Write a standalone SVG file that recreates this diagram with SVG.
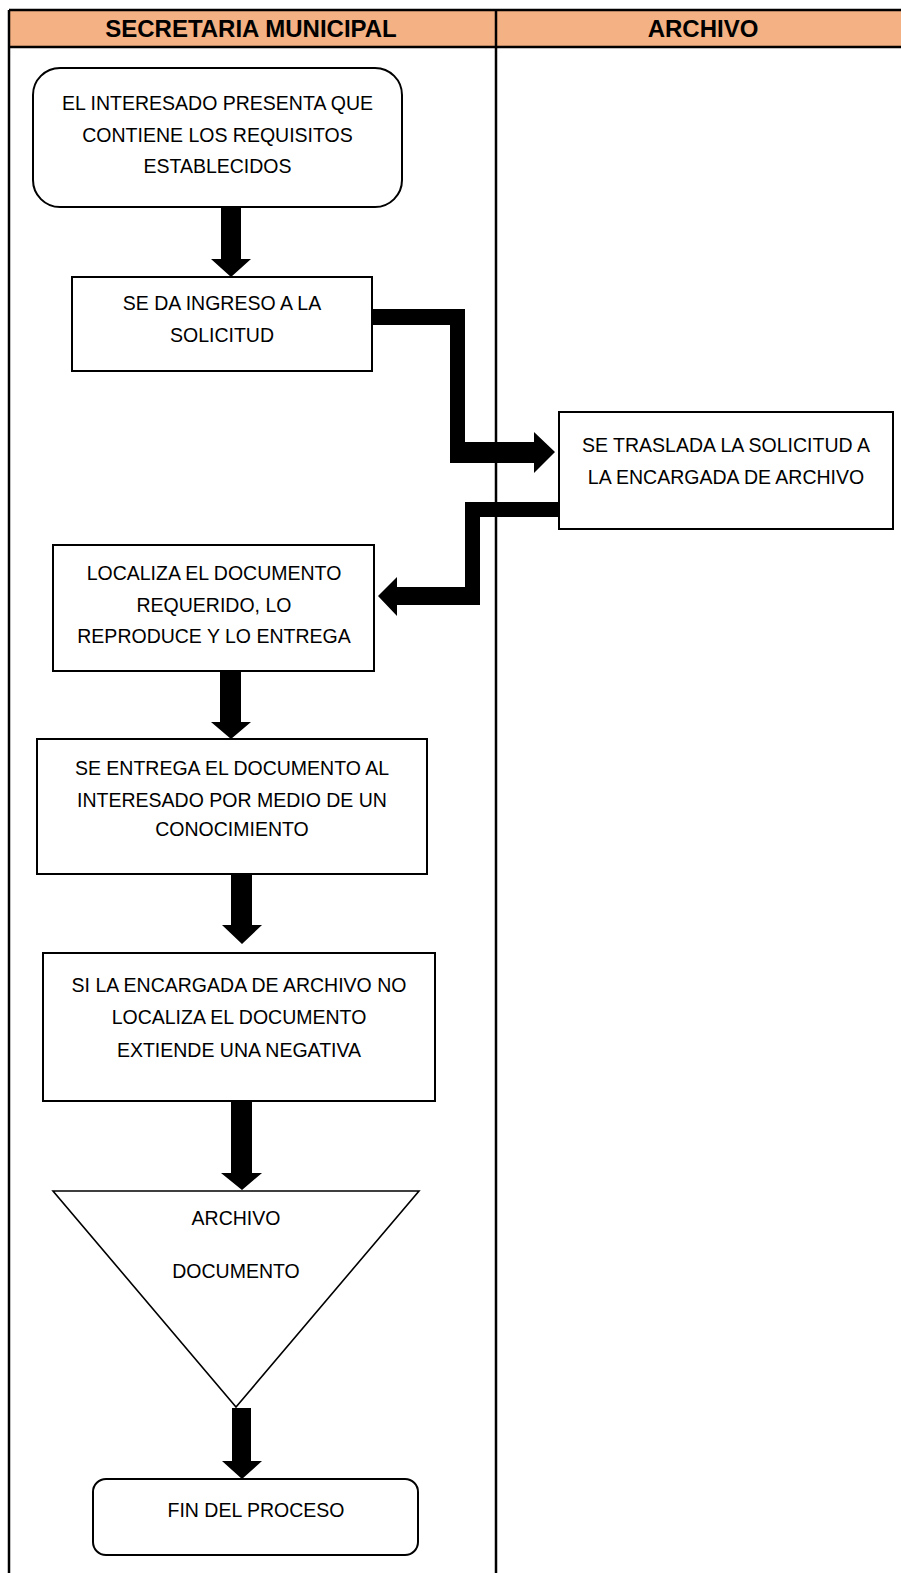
<svg xmlns="http://www.w3.org/2000/svg" width="901" height="1573" viewBox="0 0 901 1573">
  <defs>
    <style>
      .lane { fill: none; stroke: #000; stroke-width: 2.5; }
      .hdr { fill: #F4B183; }
      .hdrtxt { font-family: "Liberation Sans", Arial, sans-serif; font-weight: bold; font-size: 24px; fill: #000; text-anchor: middle; }
      .box { fill: #fff; stroke: #000; stroke-width: 2; }
      .tri { fill: #fff; stroke: #000; stroke-width: 1.6; stroke-linejoin: miter; }
      .txt { font-family: "Liberation Sans", Arial, sans-serif; font-size: 19.5px; fill: #000; text-anchor: middle; }
      .arr { fill: #000; stroke: none; }
    </style>
  </defs>
  <rect x="0" y="0" width="901" height="1573" fill="#fff"/>

  <g id="lanes">
    <rect class="hdr" x="9" y="10" width="892" height="37"/>
    <line class="lane" x1="9" y1="10" x2="901" y2="10"/>
    <line class="lane" x1="9" y1="47" x2="901" y2="47"/>
    <line class="lane" x1="9" y1="10" x2="9" y2="1573"/>
    <line class="lane" x1="496" y1="10" x2="496" y2="1573"/>
    <text class="hdrtxt" x="251" y="37">SECRETARIA MUNICIPAL</text>
    <text class="hdrtxt" x="703" y="37">ARCHIVO</text>
  </g>

  <g id="connectors">
    <polygon class="arr" points="221,207 241,207 241,259 251,259 231,277 211,259 221,259"/>
    <polygon class="arr" points="372,309 465,309 465,442 534,442 534,432 555,452 534,473 534,463 450,463 450,325 372,325"/>
    <polygon class="arr" points="564,502 564,517 480,517 480,605 397,605 397,616 378,596 397,577 397,587 465,587 465,502"/>
    <polygon class="arr" points="220,671 241,671 241,722 251,722 231,739 211,722 220,722"/>
    <polygon class="arr" points="231,874 252,874 252,925 262,925 242,944 222,925 231,925"/>
    <polygon class="arr" points="231,1101 252,1101 252,1173 262,1173 242,1190 221,1173 231,1173"/>
    <polygon class="arr" points="232,1408 251,1408 251,1461 262,1461 242,1479 222,1461 232,1461"/>
  </g>

  <g id="n1">
    <rect class="box" x="33" y="68" width="369" height="139" rx="27" ry="27"/>
    <text class="txt" x="217.5" y="110">EL INTERESADO PRESENTA QUE</text>
    <text class="txt" x="217.5" y="142">CONTIENE LOS REQUISITOS</text>
    <text class="txt" x="217.5" y="173">ESTABLECIDOS</text>
  </g>

  <g id="n2">
    <rect class="box" x="72" y="277" width="300" height="94"/>
    <text class="txt" x="222" y="310">SE DA INGRESO A LA</text>
    <text class="txt" x="222" y="342">SOLICITUD</text>
  </g>

  <g id="n3">
    <rect class="box" x="559" y="412" width="334" height="117"/>
    <text class="txt" x="726" y="452">SE TRASLADA LA SOLICITUD A</text>
    <text class="txt" x="726" y="484">LA ENCARGADA DE ARCHIVO</text>
  </g>

  <g id="n4">
    <rect class="box" x="53" y="545" width="321" height="126"/>
    <text class="txt" x="214" y="580">LOCALIZA EL DOCUMENTO</text>
    <text class="txt" x="214" y="612">REQUERIDO, LO</text>
    <text class="txt" x="214" y="643">REPRODUCE Y LO ENTREGA</text>
  </g>

  <g id="n5">
    <rect class="box" x="37" y="739" width="390" height="135"/>
    <text class="txt" x="232" y="775">SE ENTREGA EL DOCUMENTO AL</text>
    <text class="txt" x="232" y="807">INTERESADO POR MEDIO DE UN</text>
    <text class="txt" x="232" y="836">CONOCIMIENTO</text>
  </g>

  <g id="n6">
    <rect class="box" x="43" y="953" width="392" height="148"/>
    <text class="txt" x="239" y="992">SI LA ENCARGADA DE ARCHIVO NO</text>
    <text class="txt" x="239" y="1024">LOCALIZA EL DOCUMENTO</text>
    <text class="txt" x="239" y="1057">EXTIENDE UNA NEGATIVA</text>
  </g>

  <g id="n7">
    <polygon class="tri" points="53,1191 419,1191 236,1407"/>
    <text class="txt" x="236" y="1225">ARCHIVO</text>
    <text class="txt" x="236" y="1278">DOCUMENTO</text>
  </g>

  <g id="n8">
    <rect class="box" x="93" y="1479" width="325" height="76" rx="13" ry="13"/>
    <text class="txt" x="256" y="1517">FIN DEL PROCESO</text>
  </g>
</svg>
